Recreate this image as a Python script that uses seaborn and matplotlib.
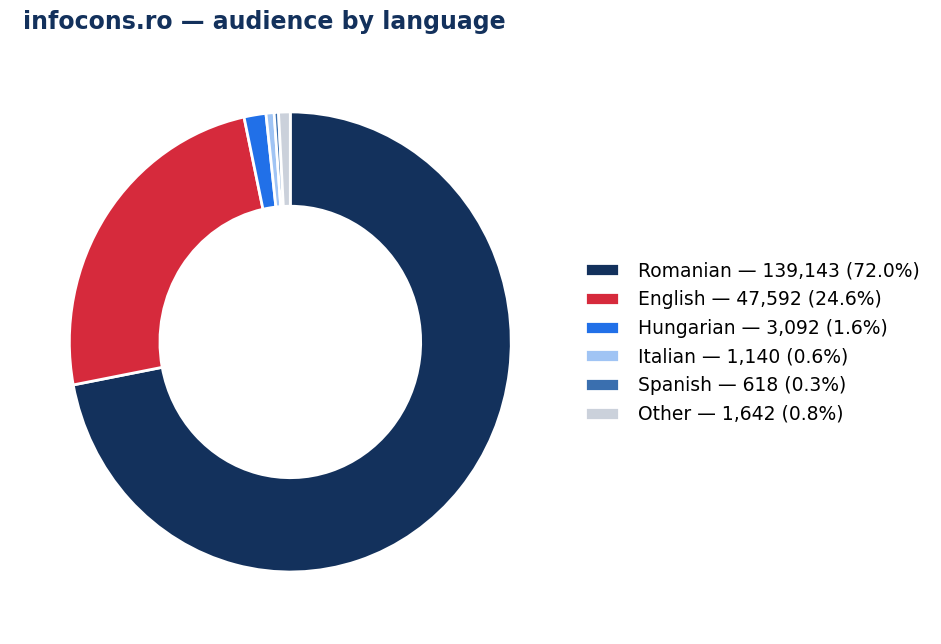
import matplotlib
matplotlib.use('Agg')
import matplotlib.pyplot as plt
import seaborn as sns

# Data
languages = ['Romanian', 'English', 'Hungarian', 'Italian', 'Spanish', 'Other']
visitors = [139143, 47592, 3092, 1140, 618, 1642]
shares = [72.0, 24.6, 1.6, 0.6, 0.3, 0.8]
colors = ['#13315c', '#d62a3c', '#2170e8', '#a0c4f4', '#3a6faf', '#cbd1db']

sns.set_theme(style='white')
plt.rcParams['font.family'] = ['DejaVu Sans']

fig = plt.figure(figsize=(9.41, 6.44), dpi=100)
ax = fig.add_axes([0.015, 0.0225, 0.587, 0.893])

wedges, _ = ax.pie(visitors, colors=colors, startangle=90, counterclock=False,
                   wedgeprops=dict(width=0.41, edgecolor='white', linewidth=2))
# the reference ring is a touch taller than it is wide
ax.set_aspect('auto')

labels = [f'{l} \u2014 {v:,} ({s:.1f}%)' for l, v, s in zip(languages, visitors, shares)]
fig.legend(wedges, labels, loc='center left', bbox_to_anchor=(0.604, 0.468),
           frameon=False, fontsize=13.5, handlelength=1.8, handleheight=0.7,
           handletextpad=1.0, labelspacing=0.52, labelcolor='black')

fig.text(0.024, 0.985, 'infocons.ro \u2014 audience by language', color='#13315c',
         fontsize=17, fontweight='bold', va='top', ha='left')

fig.savefig('out.png', dpi=100)
